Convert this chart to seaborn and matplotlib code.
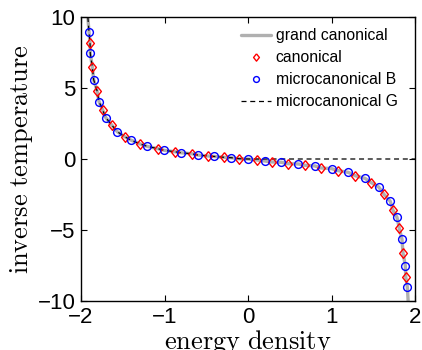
"""
Inverse temperature vs energy density for the different ensembles.
"""

import matplotlib
matplotlib.use('Agg')
import matplotlib.pyplot as plt
import seaborn as sns
import numpy as np

# microcanonical B (blue circles)
circ_e = [-1.904, -1.889, -1.848, -1.784, -1.704, -1.565, -1.405, -1.206, -1.002,
          -0.802, -0.602, -0.404, -0.200, 0.000, 0.200, 0.399, 0.602, 0.802,
          1.002, 1.201, 1.401, 1.565, 1.704, 1.784, 1.844, 1.884, 1.908]
circ_b = [8.94, 7.44, 5.58, 4.04, 2.92, 1.92, 1.34, 0.89, 0.61,
          0.44, 0.28, 0.18, 0.09, 0.00, -0.14, -0.23, -0.35, -0.49,
          -0.68, -0.94, -1.36, -1.97, -2.98, -4.10, -5.65, -7.51, -9.01]

# canonical (red diamonds)
diam_e = [-1.892, -1.865, -1.808, -1.740, -1.632, -1.476, -1.293, -1.081, -0.874,
          -0.674, -0.475, -0.284, -0.108, 0.110, 0.287, 0.479, 0.679, 0.874,
          1.078, 1.285, 1.477, 1.629, 1.733, 1.812, 1.856, 1.889]
diam_b = [8.19, 6.50, 4.81, 3.45, 2.39, 1.57, 1.06, 0.73, 0.51,
          0.37, 0.21, 0.12, 0.02, -0.07, -0.21, -0.33, -0.44, -0.63,
          -0.82, -1.18, -1.67, -2.49, -3.57, -4.88, -6.60, -8.29]

# end points of the grand canonical curve where it leaves the box
end_e = [-1.918, 1.918]
end_b = [10.0, -10.0]

# microcanonical G is zero for positive energies
gibbs_flat_e = [0.0, 2.0]
gibbs_flat_b = [0.0, 0.0]

legend_order = ['grand canonical', 'canonical', 'microcanonical B', 'microcanonical G']

# matlab-like diamond, a bit taller than wide
DIAMOND = [(0, 1), (0.8, 0), (0, -1), (-0.8, 0), (0, 1)]


def main():
    sns.set_style('ticks')
    plt.rcParams['font.family'] = ['Liberation Sans', 'DejaVu Sans']
    plt.rcParams['mathtext.fontset'] = 'cm'
    plt.rcParams['text.color'] = 'black'
    plt.rcParams['axes.labelcolor'] = 'black'
    plt.rcParams['xtick.color'] = 'black'
    plt.rcParams['ytick.color'] = 'black'

    # grand canonical curve through all read points
    all_e = np.array(circ_e + diam_e + end_e)
    all_b = np.array(circ_b + diam_b + end_b)
    order = np.argsort(all_e)
    gc_e, gc_b = all_e[order], all_b[order]

    neg = gc_e <= 0
    g_e = np.concatenate([gc_e[neg], gibbs_flat_e])
    g_b = np.concatenate([gc_b[neg], gibbs_flat_b])

    fig = plt.figure(figsize=(4.22, 3.5), dpi=100)
    ax = fig.add_axes([81 / 422, 1 - 301 / 350, 334 / 422, 284 / 350])

    sns.lineplot(x=gc_e, y=gc_b, ax=ax, color='#b0b0b0', linewidth=2.4,
                 sort=False, estimator=None, label='grand canonical', zorder=1)
    sns.lineplot(x=g_e, y=g_b, ax=ax, color='black', linewidth=0.9,
                 linestyle=(0, (4, 3)), sort=False, estimator=None,
                 label='microcanonical G', zorder=2)
    sns.lineplot(x=diam_e, y=diam_b, ax=ax, linestyle='', marker=DIAMOND,
                 markersize=7.0, markerfacecolor='none', markeredgecolor='red',
                 markeredgewidth=1.0, sort=False, estimator=None,
                 label='canonical', zorder=3)
    sns.lineplot(x=circ_e, y=circ_b, ax=ax, linestyle='', marker='o',
                 markersize=5.6, markerfacecolor='none', markeredgecolor='blue',
                 markeredgewidth=1.0, sort=False, estimator=None,
                 label='microcanonical B', zorder=3)

    ax.set_xlim(-2, 2)
    ax.set_ylim(-10, 10)
    ax.set_xticks([-2, -1, 0, 1, 2])
    ax.set_yticks([-10, -5, 0, 5, 10])
    ax.tick_params(direction='in', top=True, right=True, length=4, width=0.8,
                   labelsize=16, pad=4, colors='black')
    for sp in ax.spines.values():
        sp.set_linewidth(1.0)
        sp.set_color('black')

    ax.set_xlabel(r'$\mathrm{energy\ density}$', fontsize=19, labelpad=0)
    ax.set_ylabel(r'$\mathrm{inverse\ temperature}$', fontsize=19, labelpad=2)

    handles, labels = ax.get_legend_handles_labels()
    hmap = dict(zip(labels, handles))
    ax.legend([hmap[k] for k in legend_order], legend_order, loc='upper right',
              bbox_to_anchor=(0.99, 1.01), frameon=False, fontsize=11.3,
              handlelength=1.9, handletextpad=0.3, labelspacing=0.45,
              markerscale=0.75)

    fig.savefig('out.png', dpi=100)
    plt.close(fig)


if __name__ == '__main__':
    main()
